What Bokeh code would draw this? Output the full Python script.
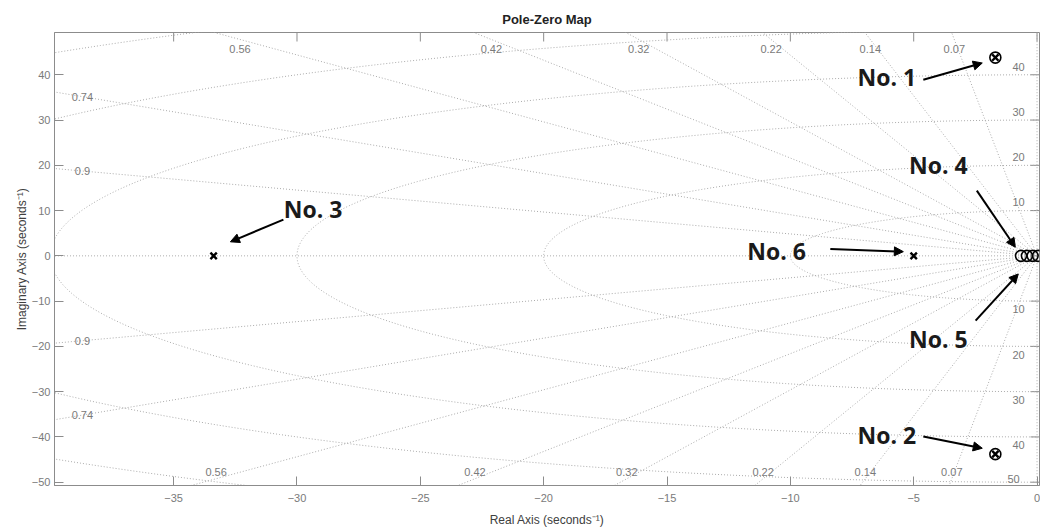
import numpy as np
from bokeh.plotting import figure
from bokeh.models import (ColumnDataSource, LabelSet, Label, Arrow, NormalHead,
                          FixedTicker, Range1d)
from bokeh.core.properties import value
from bokeh.embed import file_html
from bokeh.resources import INLINE

# ---------------- data ----------------
title_text = "Pole-Zero Map"
x_label = "Real Axis (seconds\u207b\u00b9)"
y_label = "Imaginary Axis (seconds\u207b\u00b9)"
x_ticks = [-35, -30, -25, -20, -15, -10, -5, 0]
y_ticks = [-50, -40, -30, -20, -10, 0, 10, 20, 30, 40]

pole_re = [-1.69, -1.69, -33.38, -5.0]
pole_im = [43.8, -43.8, 0.0, 0.0]
zero_re = [-1.69, -1.69, -0.65, -0.41, -0.18, 0.04]
zero_im = [43.8, -43.8, 0.0, 0.0, 0.0, 0.0]

zeta_values = [0.07, 0.14, 0.22, 0.32, 0.42, 0.56, 0.74, 0.9]
wn_values = [10, 20, 30, 40, 50, 60, 70]

note_text = ["No. 1", "No. 2", "No. 3", "No. 4", "No. 5", "No. 6"]
note_x = [-6.09, -6.09, -29.35, -4.0, -4.0, -10.56]
note_y = [39.56, -39.5, 10.4, 20.1, -18.3, 1.15]
arrow_x0 = [-4.61, -4.61, -30.55, -2.44, -2.49, -8.38]
arrow_y0 = [38.9, -39.9, 8.0, 14.4, -14.3, 1.5]
arrow_x1 = [-2.22, -2.22, -32.7, -0.88, -0.76, -5.42]
arrow_y1 = [42.6, -42.5, 3.1, 1.9, -4.0, 0.93]

# ---------------- layout ----------------
W, H = 1040, 530
B_LEFT, B_RIGHT, B_TOP, B_BOTTOM = 54, 1, 32, 45
X_MIN, X_MAX = -39.83, 0.1
Y_MIN, Y_MAX = -50.73, 49.34
GRID_COLOR = "#ababab"
AX_COLOR = "#8c8c8c"
TXT_GRAY = "#7a7a7a"
FONT = "Liberation Sans"

p = figure(width=W, height=H,
           x_range=Range1d(X_MIN, X_MAX), y_range=Range1d(Y_MIN, Y_MAX),
           output_backend="svg", toolbar_location=None, title=title_text,
           min_border_left=B_LEFT, min_border_right=B_RIGHT, min_border_top=B_TOP,
           min_border_bottom=B_BOTTOM)
p.xgrid.visible = False
p.ygrid.visible = False
p.outline_line_color = AX_COLOR
p.background_fill_color = "white"
p.border_fill_color = "white"

p.title.align = "center"
p.title.text_font = FONT
p.title.text_font_size = "13px"
p.title.text_font_style = "bold"
p.title.text_color = "#222222"
p.title.standoff = 11

p.xaxis.ticker = FixedTicker(ticks=x_ticks)
p.yaxis.ticker = FixedTicker(ticks=y_ticks)
p.xaxis.axis_label = x_label
p.yaxis.axis_label = y_label
for ax in (p.xaxis[0], p.yaxis[0]):
    ax.major_tick_in = 9
    ax.major_tick_out = 0
    ax.minor_tick_in = 0
    ax.minor_tick_out = 0
    ax.axis_line_color = AX_COLOR
    ax.major_tick_line_color = AX_COLOR
    ax.major_label_text_color = TXT_GRAY
    ax.major_label_text_font = FONT
    ax.major_label_text_font_size = "11px"
    ax.axis_label_text_font = FONT
    ax.axis_label_text_font_size = "12px"
    ax.axis_label_text_font_style = "normal"
    ax.axis_label_text_color = "#404040"
p.xaxis.major_label_standoff = 8
p.xaxis.axis_label_standoff = 8
p.yaxis.major_label_standoff = 4
p.yaxis.axis_label_standoff = 0

# box ticks on top and right sides (inward, same length as the axes' ticks)
frame_w = W - B_LEFT - B_RIGHT
frame_h = H - B_TOP - B_BOTTOM
tick_dy = 9 * (Y_MAX - Y_MIN) / frame_h
tick_dx = 9 * (X_MAX - X_MIN) / frame_w
p.segment(x0=x_ticks, y0=[Y_MAX] * len(x_ticks), x1=x_ticks,
          y1=[Y_MAX - tick_dy] * len(x_ticks), line_color=AX_COLOR, line_width=1)
p.segment(x0=[X_MAX] * len(y_ticks), y0=y_ticks, x1=[X_MAX - tick_dx] * len(y_ticks),
          y1=y_ticks, line_color=AX_COLOR, line_width=1)

# ---------------- s-plane grid ----------------
R = 200.0
zx, zy = [], []
for z in zeta_values:
    s = np.sqrt(1 - z * z)
    zx += [[0, -R * z], [0, -R * z]]
    zy += [[0, R * s], [0, -R * s]]
zx += [[0, -R], [0, 0]]
zy += [[0, 0], [-R, R]]
p.multi_line(zx, zy, line_color=GRID_COLOR, line_width=1, line_dash="1 2")

th = np.linspace(np.pi / 2, 3 * np.pi / 2, 400)
cx = [list(w * np.cos(th)) for w in wn_values]
cy = [list(w * np.sin(th)) for w in wn_values]
p.multi_line(cx, cy, line_color=GRID_COLOR, line_width=1, line_dash="1 2")

# grid labels
lx, ly, lt = [], [], []
for z in zeta_values:
    slope = np.sqrt(1 - z * z) / z
    x_top = -Y_MAX / slope
    if x_top > X_MIN + 1:
        xl = -47.8 / slope
        lx += [xl, xl * 1.03]
        ly += [45.7, -47.8]
    else:
        yl = 38.7 * slope
        lx += [-38.7, -38.7]
        ly += [yl, -yl]
    lt += [f"{z:g}", f"{z:g}"]
for w in wn_values:
    for sgn in (1, -1):
        yv = sgn * (w + 1.8)
        if Y_MIN - 2.5 < yv < Y_MAX - 1:
            # annotations are clipped to the frame: keep the label just inside it
            yv = max(yv, Y_MIN + 1.4)
            lx.append(-0.75 if yv > Y_MIN + 2 else -0.95)
            ly.append(yv)
            lt.append(f"{w}")

for xx, yy, tt in zip(lx, ly, lt):
    p.add_layout(Label(x=xx, y=yy, text=tt, text_align="center",
                       text_baseline="middle", text_font=FONT,
                       text_font_size="11px", text_color=TXT_GRAY))

# ---------------- poles / zeros ----------------
p.scatter(zero_re, zero_im, marker="circle", size=11, fill_color=None,
          line_color="black", line_width=1.6)
p.scatter(pole_re, pole_im, marker="x", size=9, line_color="black", line_width=2.4)

# ---------------- annotations ----------------
p.add_layout(Arrow(end=NormalHead(size=9, fill_color="black", line_color="black"),
                   x_start="x0", y_start="y0", x_end="x1", y_end="y1",
                   line_color="black", line_width=2,
                   source=ColumnDataSource(dict(x0=arrow_x0, y0=arrow_y0,
                                                x1=arrow_x1, y1=arrow_y1))))
p.add_layout(LabelSet(x="x", y="y", text="t",
                      source=ColumnDataSource(dict(x=note_x, y=note_y, t=note_text)),
                      text_align="center", text_baseline="middle",
                      text_font=value("Open Sans"), text_font_style="bold",
                      text_font_size="23px", text_color="#1a1a1a"))

open("out.html", "w").write(file_html(p, INLINE))
